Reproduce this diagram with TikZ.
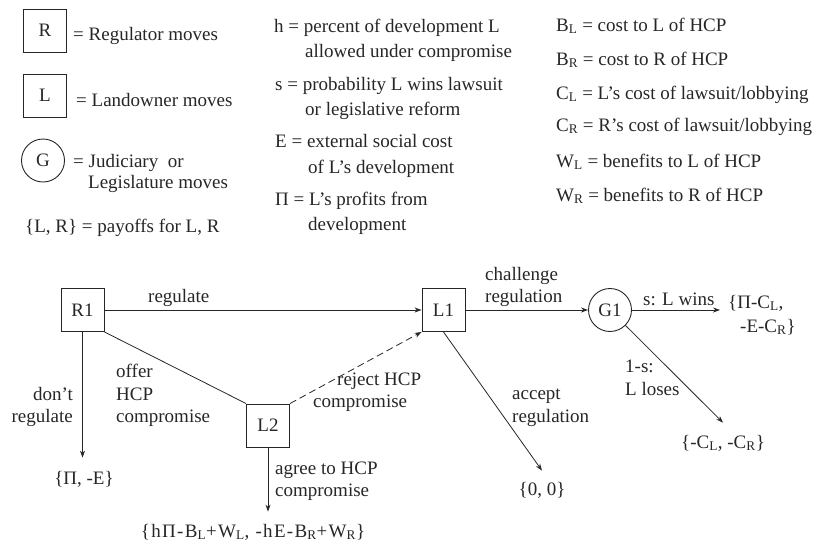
\documentclass[tikz,border=0pt]{standalone}
\usepackage{fontspec}
\setmainfont{Liberation Serif}
\usetikzlibrary{arrows.meta,positioning,calc}
\definecolor{gtInk}{HTML}{262626}
\newcommand{\lsub}[1]{\textsubscript{#1}}
\tikzset{
  mv/.style={draw=gtInk, line width=0.9pt, minimum width=43pt, minimum height=43pt, inner sep=0pt},
  chance/.style={circle, draw=gtInk, line width=0.9pt, minimum size=43pt, inner sep=0pt},
  txt/.style={inner sep=0pt, anchor=base west},
  txtR/.style={inner sep=0pt, anchor=base east},
  pay/.style={inner sep=0pt, anchor=base},
  arr/.style={-{Stealth[length=7pt,width=5pt]}, line width=0.8pt, draw=gtInk},
  dsh/.style={arr, dash pattern=on 7pt off 4pt},
}
\begin{document}
\begin{tikzpicture}[x=1pt, y=-1pt, every node/.append style={text=gtInk, font=\fontsize{19}{23}\selectfont}]
\useasboundingbox (0,0) rectangle (817,544);
% key
\node[mv] (keyR) at (45,30.5) {R};
\node[txt] (keyRt) at (73,40) {= Regulator moves};
\node[mv] (keyL) at (45,95.5) {L};
\node[txt] (keyLt) at (76,106) {= Landowner moves};
\node[chance] (keyG) at (43,160.5) {G};
\node[txt] (keyGt) at (73,167) {= Judiciary\ \ or};
\node[txt] (keyGt2) at (88,188) {Legislature moves};
\node[txt] (keyPay) at (25,232) {\{L, R\} = payoffs for L, R};
\node[txt] (defH) at (274,32) {h = percent of development L};
\node[txt] (defH2) at (305,57) {allowed under compromise};
\node[txt] (defS) at (275,90) {s = probability L wins lawsuit};
\node[txt] (defS2) at (305,115) {or legislative reform};
\node[txt] (defE) at (275,147) {E = external social cost};
\node[txt] (defE2) at (308,173) {of L’s development};
\node[txt] (defP) at (275,205) {Π = L’s profits from};
\node[txt] (defP2) at (308,230) {development};
\node[txt] (defBL) at (556,31) {B\lsub{L} = cost to L of HCP};
\node[txt] (defBR) at (556,65) {B\lsub{R} = cost to R of HCP};
\node[txt] (defCL) at (556,99) {C\lsub{L} = L’s cost of lawsuit/lobbying};
\node[txt] (defCR) at (556,131) {C\lsub{R} = R’s cost of lawsuit/lobbying};
\node[txt] (defWL) at (556,167) {W\lsub{L} = benefits to L of HCP};
\node[txt] (defWR) at (556,201) {W\lsub{R} = benefits to R of HCP};
% game tree
\node[mv] (R1) at (82.5,310) {R1};
\node[mv] (L1) at (443.5,310) {L1};
\node[mv] (L2) at (268,425.5) {L2};
\node[chance] (G1) at (610,310) {G1};
\node[pay] (pNoReg) at (84,484) {\{Π, -E\}};
\node[pay] (pAgree) at (253,537) {\addfontfeature{LetterSpace=7}\{hΠ-B\lsub{L}+W\lsub{L}, -hE-B\lsub{R}+W\lsub{R}\}};
\node[pay] (pAcc) at (542,495) {\{0, 0\}};
\node[pay] (pLose) at (723,448) {\{-C\lsub{L}, -C\lsub{R}\}};
\node[txt] (pWin) at (728,308) {\{Π-C\lsub{L},};
\node[txt] (pWin2) at (740,332) {-E-C\lsub{R}\}};
\node[txt] (lReg) at (148,302) {regulate};
\node[txtR] (lNoReg) at (73,400) {don’t};
\node[txtR] (lNoReg2) at (73,422) {regulate};
\node[txt] (lOffer) at (116,377) {offer};
\node[txt] (lOffer2) at (116,400) {HCP};
\node[txt] (lOffer3) at (116,422) {compromise};
\node[txt] (lRej) at (337,385) {reject HCP};
\node[txt] (lRej2) at (313,407) {compromise};
\node[txt] (lChal) at (485,280) {challenge};
\node[txt] (lChal2) at (485,302) {regulation};
\node[txt] (lAcc) at (512,399) {accept};
\node[txt] (lAcc2) at (512,422) {regulation};
\node[txt] (lAgree) at (275,474) {agree to HCP};
\node[txt] (lAgree2) at (275,496) {compromise};
\node[txt] (lWin) at (643,305) {s: L wins};
\node[txt] (lLose) at (625,372) {1-s:};
\node[txt] (lLose2) at (625,395) {L loses};
\draw[arr] (R1.east) -- (L1.west);
\draw[arr] (R1.south) -- ($(R1.south |- pNoReg.north)+(0,-13)$);
\draw[line width=0.8pt, draw=gtInk] (R1.south east) -- (L2.north west);
\draw[dsh] (L2.north east) -- (L1.south west);
\draw[arr] (L2.south) -- ($(L2.south |- pAgree.north)+(0,-12)$);
\draw[arr] (L1.east) -- (G1.west);
\draw[arr] (L1.south) -- ($(pAcc.north)+(0,-11)$);
\draw[arr] (G1.east) -- ($(pWin.west |- G1.east)+(-8,0)$);
\draw[arr] (G1) -- ($(pLose.north)+(0,-12)$);
\end{tikzpicture}
\end{document}
